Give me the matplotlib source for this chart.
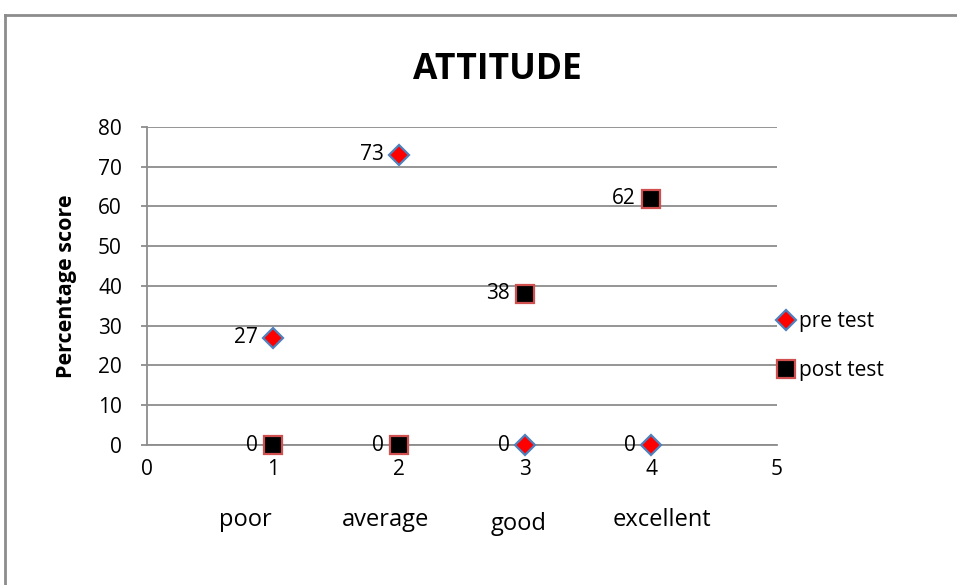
import matplotlib.pyplot as plt
from matplotlib.lines import Line2D

# categorias e pontuações (%) de cada teste
categorias = ['poor', 'average', 'good', 'excellent']
posicoes = [1, 2, 3, 4]
pre_teste = [27, 73, 0, 0]
pos_teste = [0, 0, 38, 62]

plt.rcParams['font.family'] = ['Open Sans', 'DejaVu Sans']

fig = plt.figure(figsize=(9.57, 5.85), dpi=100)
ax = fig.add_axes([0.1536, 0.2393, 0.812 - 0.1536, 0.783 - 0.2393])

cinza = '#8c8c8c'
ax.set_xlim(0, 5)
ax.set_ylim(0, 80)
ax.set_yticks(range(0, 81, 10))
ax.set_xticks(range(0, 6))
ax.grid(axis='y', color=cinza, linewidth=1.3)
ax.set_axisbelow(True)
for lado in ['top', 'right']:
    ax.spines[lado].set_visible(False)
for lado in ['left', 'bottom']:
    ax.spines[lado].set_color(cinza)
    ax.spines[lado].set_linewidth(1.3)
ax.tick_params(axis='y', length=4, color=cinza, width=1.3, pad=14, labelsize=15)
ax.tick_params(axis='x', length=0, pad=10, labelsize=15)

ax.plot(posicoes, pre_teste, linestyle='none', marker='D', markersize=10.5,
        markerfacecolor='red', markeredgecolor='#4F81BD', markeredgewidth=1.6,
        label='pre test', zorder=4, clip_on=False)
ax.plot(posicoes, pos_teste, linestyle='none', marker='s', markersize=13,
        markerfacecolor='black', markeredgecolor='#D05050', markeredgewidth=1.6,
        label='post test', zorder=5, clip_on=False)

# rótulos de valor à esquerda de cada ponto
for serie in (pre_teste, pos_teste):
    for x, y in zip(posicoes, serie):
        ax.annotate(str(y), (x, y), xytext=(-11, 0), textcoords='offset points',
                    ha='right', va='center', fontsize=15)

ax.set_ylabel('Percentage score', fontsize=15.5, fontweight='bold', labelpad=15)
fig.text(0.52, 0.88, 'ATTITUDE', ha='center', va='center', fontsize=25.5, fontweight='bold')

# nomes das categorias abaixo do eixo
centros = [245, 386, 519, 662]
alturas = [520, 520, 524, 520]
for nome, cx, cy in zip(categorias, centros, alturas):
    fig.text(cx / 957, 1 - cy / 585, nome, ha='center', va='center', fontsize=17)

leg = fig.legend(loc='center left', bbox_to_anchor=(0.8, 0.408), frameon=False,
                 fontsize=15, handletextpad=0.0, labelspacing=1.35, handlelength=1.2,
                 borderaxespad=0)

# borda externa do gráfico
fig.add_artist(Line2D([5 / 957, 5 / 957], [0, 1 - 15 / 585], color=cinza, linewidth=2))
fig.add_artist(Line2D([5 / 957, 1], [1 - 15 / 585, 1 - 15 / 585], color=cinza, linewidth=2))

fig.savefig('out.png', dpi=100, facecolor='white')
